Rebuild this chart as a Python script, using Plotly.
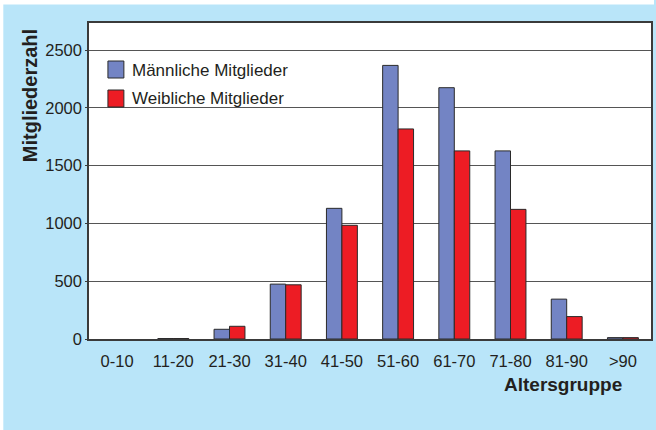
import plotly.graph_objects as go

# Age groups and member counts
altersgruppen = ["0-10", "11-20", "21-30", "31-40", "41-50",
                 "51-60", "61-70", "71-80", "81-90", ">90"]
maennlich = [0, 4, 84, 475, 1131, 2368, 2175, 1628, 345, 12]
weiblich = [0, 4, 110, 469, 984, 1818, 1628, 1122, 194, 12]
serien = ["Männliche Mitglieder", "Weibliche Mitglieder"]
y_ticks = [0, 500, 1000, 1500, 2000, 2500]

BLAU = "#7384c4"
ROT = "#ed1c24"
HINTERGRUND = "#b9e5f9"
TEXT = "#231f20"
FONT = "Liberation Sans, Arial, sans-serif"

W, H = 656, 430
L, R, T, B = 89, 3, 23, 91
PW, PH = W - L - R, H - T - B


def px_x(px):
    return (px - L) / PW


def px_y(py):
    return (H - B - py) / PH


fig = go.Figure()
for name, werte, farbe in zip(serien, [maennlich, weiblich], [BLAU, ROT]):
    fig.add_trace(go.Bar(
        x=altersgruppen, y=werte, name=name,
        marker=dict(color=farbe,
                    line=dict(color="#2a2a2a", width=[0 if v == 0 else 1 for v in werte])),
        showlegend=False,
    ))

shapes = [
    # white strips along the top and left edge of the page
    dict(type="rect", xref="paper", yref="paper", x0=px_x(0), x1=px_x(W),
         y0=px_y(4.5), y1=px_y(-2), fillcolor="white", line_width=0, layer="above"),
    dict(type="rect", xref="paper", yref="paper", x0=px_x(-2), x1=px_x(3),
         y0=px_y(H + 2), y1=px_y(-2), fillcolor="white", line_width=0, layer="above"),
]
annotations = []

# legend drawn as boxes plus labels
for i, (name, farbe) in enumerate(zip(serien, [BLAU, ROT])):
    top = 61 + i * 29
    shapes.append(dict(type="rect", xref="paper", yref="paper",
                       x0=px_x(108), x1=px_x(124), y0=px_y(top + 17), y1=px_y(top),
                       fillcolor=farbe, line=dict(color="#2a2a2a", width=1)))
    annotations.append(dict(text=name, xref="paper", yref="paper",
                            x=px_x(130), y=px_y(top + 9), xanchor="left", yanchor="middle",
                            showarrow=False, font=dict(size=17, color=TEXT, family=FONT)))

annotations.append(dict(text="<b>Mitgliederzahl</b>", xref="paper", yref="paper",
                        x=px_x(30), y=px_y(96), textangle=-90, showarrow=False,
                        xanchor="center", yanchor="middle",
                        font=dict(size=20, color=TEXT, family=FONT)))
annotations.append(dict(text="<b>Altersgruppe</b>", xref="paper", yref="paper",
                        x=px_x(565), y=px_y(385), showarrow=False,
                        xanchor="center", yanchor="middle",
                        font=dict(size=19, color=TEXT, family=FONT)))

fig.update_layout(
    width=W, height=H,
    margin=dict(l=L, r=R, t=T, b=B, pad=0),
    paper_bgcolor=HINTERGRUND, plot_bgcolor="white",
    barmode="group", bargap=0.45, bargroupgap=0,
    font=dict(family=FONT, size=16, color=TEXT),
    shapes=shapes, annotations=annotations,
    xaxis=dict(showline=True, mirror=True, linecolor="#3a3a3a", linewidth=1.5,
               showgrid=False, ticks="outside", ticklen=6, tickcolor="rgba(0,0,0,0)",
               tickfont=dict(size=16.5, color=TEXT)),
    yaxis=dict(range=[0, 2735], tickvals=y_ticks, showline=True, mirror=True,
               linecolor="#3a3a3a", linewidth=1.5, showgrid=True, gridcolor="#555555",
               gridwidth=1.2, zeroline=False, ticks="outside", ticklen=2,
               tickcolor="#3a3a3a", tickfont=dict(size=16.5, color=TEXT)),
)

fig.write_html("out.html")
